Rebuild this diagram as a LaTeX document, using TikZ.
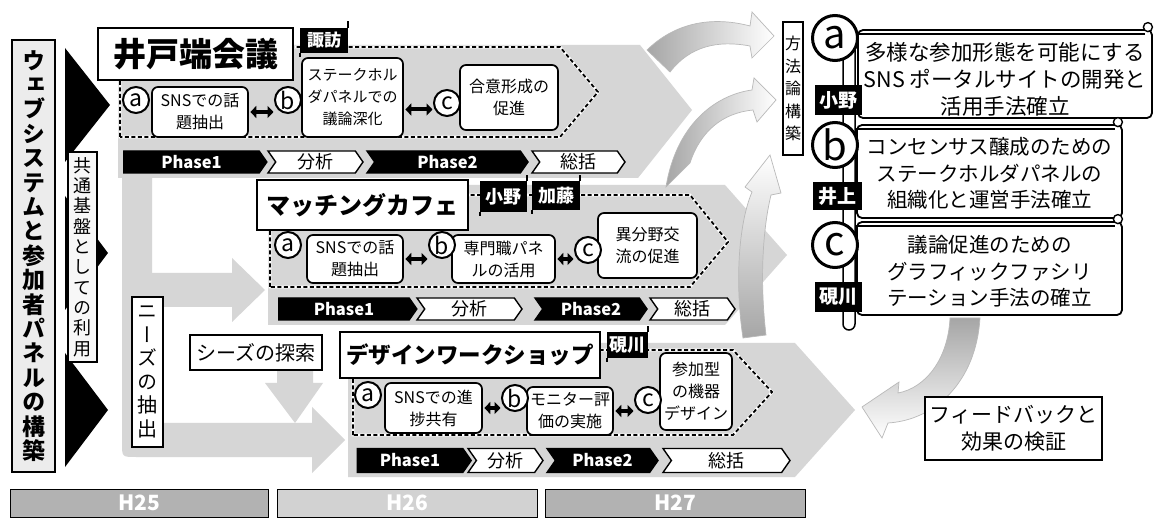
\documentclass[tikz,border=0pt]{standalone}
\usepackage{fontspec}
\usepackage{graphicx}
\setmainfont{Noto Sans CJK JP}
\newfontfamily\vjp{Noto Sans CJK JP}[RawFeature=+vert]
\usetikzlibrary{shapes.symbols, arrows.meta, calc}
\newcommand\fs[2]{\fontsize{#1}{#2}\selectfont}
\begin{document}
\begin{tikzpicture}[x=1pt, y=-1pt,
  band/.style={fill=gray!32},
  dashchev/.style={draw=white, line width=2.8pt, postaction={draw=black, line width=1.8pt, dash pattern=on 4pt off 2.5pt}},
  itembox/.style={draw, line width=1.7pt, rounded corners=6pt, fill=white, align=center, inner sep=1pt, font=\fs{16}{22}},
  circ/.style={circle, draw, line width=2pt, fill=white, inner sep=0pt, minimum size=26pt, font=\fs{23}{23}},
  bigc/.style={circle, draw, line width=3pt, fill=white, inner sep=0pt, minimum size=45pt, font=\fs{40}{40}},
  dbl/.style={line width=4pt, {Triangle[length=6pt,width=12pt]}-{Triangle[length=6pt,width=12pt]}, shorten <=1.5pt, shorten >=0.5pt},
  phase/.style={signal, signal to=east, signal from=west, signal pointer angle=110, draw, line width=1.4pt, inner sep=0pt},
  pblack/.style={phase, fill=black, text=white, font=\bfseries\fs{16.5}{17}},
  pwhite/.style={phase, fill=white, font=\fs{18}{18}},
  titlebox/.style={draw, line width=2.6pt, fill=white, inner sep=0pt},
  tag/.style={fill=black, text=white, inner sep=0pt, font=\bfseries\fs{17}{17}},
  pole/.style={line width=2.5pt},
  vbox/.style={draw, line width=2pt, inner sep=0pt, align=center},
  yearbar/.style={draw, line width=1pt, minimum height=28pt, text=white, font=\bfseries\fs{21}{21}},
  scrollbox/.style={draw, line width=1.8pt, rounded corners=5pt, fill=white},
  carrow/.style={draw=gray!55, line width=0.7pt}
]
\useasboundingbox (0,0) rectangle (1154,518);
\fill[white] (0,0) rectangle (1154,518);

% gray bands
\fill[band] (118,45) -- (640,45) -- (692,110) -- (638,178) -- (118,178) -- cycle;
\fill[band] (268,185) -- (725,185) -- (787,255) -- (725,325) -- (268,325) -- cycle;
\fill[band] (348,343) -- (795,343) -- (855,410) -- (795,477) -- (348,477) -- cycle;
\fill[band] (122,170) -- (152,170) -- (152,423) -- (312,423) -- (312,407) -- (345,440) -- (312,473) -- (312,457) -- (136,457) .. controls (122,457) .. (122,443) -- cycle;
\fill[band] (150,273) -- (232,273) -- (232,258) -- (265,290) -- (232,322) -- (232,307) -- (150,307) -- cycle;
\fill[band] (277,370) -- (313,370) -- (313,383) -- (323,383) -- (295,423) -- (265,383) -- (277,383) -- cycle;

% curved arrows
\path[carrow, left color=gray!70, right color=white]
  (647,50) .. controls (680,18) and (720,18) .. (750,26) -- (752,12) -- (774,36) -- (752,58) -- (750,46) .. controls (718,40) and (690,46) .. (670,72) -- cycle;
\path[carrow, left color=gray!70, right color=white]
  (666,187) .. controls (676,125) and (715,95) .. (752,90) -- (754,78) -- (776,100) -- (757,122) -- (753,110) .. controls (722,113) and (700,132) .. (690,163) -- cycle;
\path[carrow, bottom color=gray!70, top color=white]
  (743,338) .. controls (735,285) and (738,225) .. (752,192) -- (745,187) -- (770,155) -- (781,193) -- (771,195) .. controls (762,232) and (760,285) .. (766,335) -- cycle;
\path[carrow, top color=gray!70, bottom color=white]
  (950,318) .. controls (948,360) and (925,388) .. (898,393) -- (899,382) -- (862,407) -- (882,438) -- (888,423) .. controls (935,420) and (976,382) .. (980,318) -- cycle;

% dashed chevrons
\draw[dashchev] (120,137) -- (120,47) -- (560,47) -- (598,92) -- (560,137) -- cycle;
\draw[dashchev] (270,287) -- (270,195) -- (690,195) -- (728,242) -- (690,287) -- cycle;
\draw[dashchev] (353,435) -- (353,350) -- (733,350) -- (772,392) -- (733,435) -- cycle;

% row 1 items
\node[itembox, minimum width=96pt, minimum height=50pt] (r1a) at (200,112) {SNSでの話\\題抽出};
\node[itembox, minimum width=101pt, minimum height=79pt, font=\fs{15}{22}] (r1b) at (352.5,97.5) {ステークホル\\ダパネルでの\\議論深化};
\node[itembox, minimum width=98pt, minimum height=65pt] (r1c) at (509,97.5) {合意形成の\\促進};
\node[circ] (r1ca) at (136,100) {a};
\node[circ] (r1cb) at (288,100) {b};
\node[circ] (r1cc) at (447,103) {c};
\draw[dbl] (r1a.east) -- (r1a.east -| r1cb.west);
\coordinate (q1) at ($(r1b.east)+(0,12)$);
\draw[dbl] (q1) -- (q1 -| r1cc.west);

% row 2 items
\node[itembox, minimum width=96pt, minimum height=48pt] (r2a) at (355,259) {SNSでの話\\題抽出};
\node[itembox, minimum width=103pt, minimum height=48pt] (r2b) at (503.5,259) {専門職パネ\\ルの活用};
\node[itembox, minimum width=99pt, minimum height=65pt] (r2c) at (647.5,245.5) {異分野交\\流の促進};
\node[circ] (r2ca) at (288,245) {a};
\node[circ] (r2cb) at (442,245) {b};
\node[circ] (r2cc) at (588,250) {c};
\draw[dbl] (r2a.east) -- (r2a.east -| r2cb.west);
\draw[dbl] (r2b.east) -- (r2b.east -| r2cc.west);

% row 3 items
\node[itembox, minimum width=97pt, minimum height=50pt] (r3a) at (433.5,408) {SNSでの進\\捗共有};
\node[itembox, minimum width=86pt, minimum height=48pt] (r3b) at (570,411) {モニター評\\価の実施};
\node[itembox, minimum width=72pt, minimum height=77pt] (r3c) at (696,391.5) {参加型\\の機器\\デザイン};
\node[circ] (r3ca) at (368,395) {a};
\node[circ] (r3cb) at (515,398) {b};
\node[circ] (r3cc) at (648,400) {c};
\draw[dbl] (r3a.east) -- (r3a.east -| r3cb.west);
\draw[dbl] (r3b.east) -- (r3b.east -| r3cc.west);

% phase bars
\node[pblack, signal from=nowhere, minimum width=143pt, minimum height=22pt] (p1a) at (191.5,162) {Phase1};
\node[pwhite, minimum width=95pt, minimum height=22pt] (p1b) at (315.5,162) {分析};
\node[pblack, minimum width=161pt, minimum height=22pt] (p1c) at (447.5,162) {Phase2};
\node[pwhite, minimum width=93pt, minimum height=22pt] (p1d) at (578.5,162) {総括};

\node[pblack, signal from=nowhere, minimum width=138pt, minimum height=22pt] (p2a) at (344,309) {Phase1};
\node[pwhite, minimum width=105pt, minimum height=22pt] (p2b) at (469.5,309) {分析};
\node[pblack, minimum width=112pt, minimum height=22pt] (p2c) at (591,309) {Phase2};
\node[pwhite, minimum width=85pt, minimum height=22pt] (p2d) at (692.5,309) {総括};

\node[pblack, signal from=nowhere, minimum width=114pt, minimum height=24pt] (p3a) at (410,460.5) {Phase1};
\node[pwhite, minimum width=75pt, minimum height=24pt] (p3b) at (505.5,460.5) {分析};
\node[pblack, minimum width=111pt, minimum height=24pt] (p3c) at (602.5,460.5) {Phase2};
\node[pwhite, minimum width=127pt, minimum height=24pt] (p3d) at (726.5,460.5) {総括};

% titles
\node[titlebox, minimum width=195pt, minimum height=52pt, font=\bfseries\fs{33}{33}] (t1) at (195.5,54) {井戸端会議};
\node[titlebox, minimum width=211pt, minimum height=50pt, font=\bfseries\fs{24}{24}] (t2) at (362.5,205) {マッチングカフェ};
\node[titlebox, minimum width=260pt, minimum height=46pt, font=\bfseries\fs{22.5}{23}] (t3) at (470,355) {デザインワークショップ};
\node[titlebox, line width=2.2pt, minimum width=132pt, minimum height=35pt, font=\fs{20}{20}] (seeds) at (256,352.5) {シーズの探索};

% tags
\node[tag, minimum width=48pt, minimum height=25pt] (g1) at (324,40.5) {諏訪};
\draw[pole] (g1.north east) -- ++(0,-7);
\draw[pole] (g1.south west) -- ++(0,4);
\node[tag, minimum width=47pt, minimum height=31pt, font=\bfseries\fs{18}{18}] (g2) at (503.5,196.5) {小野};
\draw[pole] (g2.north east) -- ++(0,-6);
\draw[pole] (g2.south west) -- ++(0,4);
\node[tag, minimum width=48pt, minimum height=29pt, font=\bfseries\fs{18}{18}] (g3) at (556,195.5) {加藤};
\draw[pole] (g3.north east) -- ++(0,-6);
\draw[pole] (g3.south west) -- ++(0,4);
\node[tag, minimum width=41pt, minimum height=26pt, font=\bfseries\fs{18}{18}] (g4) at (627.5,345) {硯川};
\draw[pole] (g4.north east) -- ++(0,-6);
\draw[pole] (g4.south west) -- ++(0,4);

% left side
\fill (65,48) -- (110,105) -- (65,162) -- cycle;
\fill (65,196) -- (108,253) -- (65,310) -- cycle;
\fill (65,353) -- (108,410) -- (65,467) -- cycle;
\node[vbox, fill=gray!15, minimum width=43pt, minimum height=432pt, text width=26pt, font=\vjp\bfseries\fs{23}{24.4}] (lb) at (33.5,256) {ウ\\ェ\\ブ\\シ\\ス\\テ\\ム\\と\\参\\加\\者\\パ\\ネ\\ル\\の\\構\\築};
\node[vbox, fill=gray!6, minimum width=29pt, minimum height=210pt, text width=20pt, font=\vjp\fs{18}{20.3}] (kb) at (82.5,257) {共\\通\\基\\盤\\と\\し\\て\\の\\利\\用};
\node[vbox, fill=white, line width=2.4pt, minimum width=31pt, minimum height=150pt, text width=22pt, font=\vjp\fs{20}{23.5}] (nb) at (147.5,372) {ニ\\ー\\ズ\\の\\抽\\出};

% year bars
\node[yearbar, fill=gray!60, minimum width=258pt] (h25) at (139,503) {H25};
\node[yearbar, fill=gray!35, minimum width=260pt] (h26) at (407,503) {H26};
\node[yearbar, fill=gray!60, minimum width=260pt] (h27) at (675,503) {H27};

% right side
\node[vbox, fill=white, line width=2.4pt, minimum width=20pt, minimum height=133pt, text width=16pt, font=\vjp\fs{16}{22.5}] (mb) at (793,88.5) {方\\法\\論\\構\\築};
\draw[line width=1.5pt, fill=white, rounded corners=6pt] (843,40) rectangle (855,330);

\node[scrollbox, minimum width=294pt, minimum height=88pt] (sa) at (1005,74) {};
\node[scrollbox, minimum width=265pt, minimum height=93pt] (sb) at (989.5,171.5) {};
\node[scrollbox, minimum width=265pt, minimum height=93pt] (sc) at (989.5,268.5) {};
\foreach \b in {sa,sb,sc}{
  \draw[line width=1.2pt] ($(\b.north west)+(0,5)$) -- ($(\b.north east)+(-8,5)$);
  \draw[line width=1.4pt, fill=white] ($(\b.north east)+(-5,-2)$) circle[radius=4.5pt];
}
\node[align=center, font=\fs{21.5}{27}] (sat) at ($(sa.center)+(0,5)$) {多様な参加形態を可能にする\\SNS ポータルサイトの開発と\\活用手法確立};
\node[align=center, font=\fs{20.5}{26.5}] (sbt) at ($(sb.center)+(0,2)$) {コンセンサス醸成のための\\ステークホルダパネルの\\組織化と運営手法確立};
\node[align=center, font=\fs{20.5}{26.5}] (sct) at ($(sc.center)+(0,3)$) {議論促進のための\\グラフィックファシリ\\テーション手法の確立};

\node[bigc] (ca) at (835,38) {a};
\node[bigc] (cb) at (835,145) {b};
\node[bigc] (cc) at (835,245) {c};

\node[tag, minimum width=47pt, minimum height=30pt, font=\bfseries\fs{19}{19}] (gA) at (838.5,100) {小野};
\node[tag, minimum width=49pt, minimum height=28pt, font=\bfseries\fs{19}{19}] (gB) at (837.5,196) {井上};
\node[tag, minimum width=47pt, minimum height=30pt, font=\bfseries\fs{19}{19}] (gC) at (838.5,297) {硯川};

\node[draw, line width=2.5pt, fill=white, minimum width=177pt, minimum height=63pt, align=center, font=\fs{21}{27}] (fb) at (1013.5,428.5) {フィードバックと\\効果の検証};
\end{tikzpicture}
\end{document}
